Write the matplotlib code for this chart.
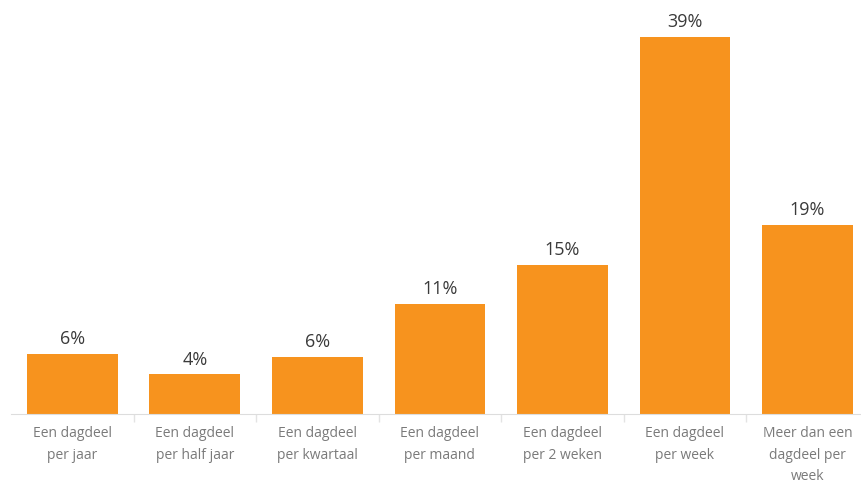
import numpy as np
import matplotlib
matplotlib.use("Agg")
import matplotlib.pyplot as plt
from matplotlib.ticker import FixedLocator

# data
categories = ["Een dagdeel\nper jaar", "Een dagdeel\nper half jaar", "Een dagdeel\nper kwartaal",
              "Een dagdeel\nper maand", "Een dagdeel\nper 2 weken", "Een dagdeel\nper week",
              "Meer dan een\ndagdeel per\nweek"]
values = [6.2, 4.1, 5.9, 11.4, 15.4, 39.0, 19.6]
labels = ["6%", "4%", "6%", "11%", "15%", "39%", "19%"]

plt.rcParams['font.family'] = ['Open Sans', 'DejaVu Sans']

fig = plt.figure(figsize=(8.61, 4.85), dpi=100)
ax = fig.add_axes([11/861., 70/485., 850/861., 415/485.])

x = np.arange(len(categories))
ax.bar(x, values, width=0.74, color='#F7931E', zorder=2)
for xi, v, lab in zip(x, values, labels):
    ax.text(xi, v + 0.7, lab, ha='center', va='bottom', fontsize=13, color='#3a3a3a')

ax.set_xlim(-0.5, 6.437)
ax.set_ylim(0, 42.93)

for s in ['top', 'right', 'left']:
    ax.spines[s].set_visible(False)
ax.spines['bottom'].set_color('#dddddd')
ax.set_yticks([])

ax.set_xticks(x)
ax.set_xticklabels(categories, fontsize=10, color='#7a7a7a', linespacing=1.6, va='top')
ax.tick_params(axis='x', which='major', length=0, pad=8)
ax.xaxis.set_minor_locator(FixedLocator(np.arange(0.5, 6.5, 1.0)))
ax.tick_params(axis='x', which='minor', length=6, color='#e3e3e3', width=1)

plt.savefig('out.png', dpi=100)
